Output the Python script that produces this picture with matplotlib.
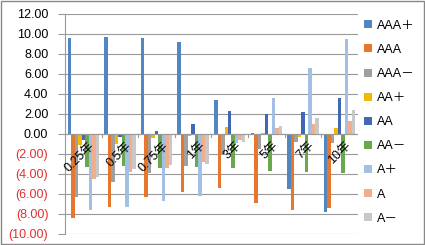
import matplotlib
matplotlib.use("Agg")
import matplotlib.pyplot as plt
from matplotlib.patches import Patch, Rectangle
import numpy as np

plt.rcParams['font.family'] = ['Liberation Sans', 'Noto Sans CJK SC', 'DejaVu Sans']

# Categories and series
categories = ['0.25年', '0.5年', '0.75年', '1年', '3年', '5年', '7年', '10年']
series_names = ['AAA＋', 'AAA', 'AAA－', 'AA＋', 'AA', 'AA－', 'A＋', 'A', 'A－']

aaa_plus = [9.6, 9.7, 9.6, 9.2, 3.4, 0.1, -5.5, -7.8]
aaa = [-8.4, -7.3, -6.3, -5.8, -5.4, -6.9, -7.6, -7.4]
aaa_minus = [-6.3, -4.8, -3.9, -3.2, -2.0, -1.5, -0.8, -0.9]
aa_plus = [-1.1, -1.0, -0.4, -0.2, 0.7, 0.1, -0.3, 0.6]
aa = [-0.6, -0.3, 0.3, 1.0, 2.3, 2.0, 2.2, 3.6]
aa_minus = [-3.3, -3.2, -3.4, -3.3, -3.4, -3.7, -3.8, -3.9]
a_plus = [-7.6, -7.3, -6.7, -6.2, -0.9, 3.6, 6.6, 9.5]
a = [-4.5, -3.8, -3.4, -2.8, -0.6, 0.6, 1.0, 1.3]
a_minus = [-4.3, -3.5, -3.1, -3.0, -0.8, 0.8, 1.6, 2.4]

all_series = [aaa_plus, aaa, aaa_minus, aa_plus, aa, aa_minus, a_plus, a, a_minus]
colors = ['#5087C0', '#E8772E', '#A0A0A0', '#F5B800', '#4068B4',
          '#6AA84F', '#A3BFE3', '#F0AE8A', '#C8C8C8']

yticks = np.arange(-10, 13, 2)

fig = plt.figure(figsize=(4.25, 2.45), dpi=100)
ax = fig.add_axes([0.153, 0.045, 0.689, 0.898])

n = len(all_series)
w = 1.0 / (n + 1.5)
x = np.arange(len(categories))
for j, (vals, col) in enumerate(zip(all_series, colors)):
    ax.bar(x + (j - (n - 1) / 2) * w, vals, width=w, color=col, zorder=3)

ax.set_xlim(-0.5, len(categories) - 0.5)
ax.set_ylim(-10, 12)
ax.set_yticks(yticks)
labels = []
for v in yticks:
    labels.append(f"({abs(v):.2f})" if v < 0 else f"{v:.2f}")
ax.set_yticklabels(labels, fontsize=9)
for t, v in zip(ax.get_yticklabels(), yticks):
    t.set_color('#E03030' if v < 0 else 'black')
ax.tick_params(axis='y', length=5, color='#999999', pad=7)
ax.set_xticks([])
ax.grid(axis='y', color='#999999', lw=0.8, zorder=0)
for s in ['top', 'right', 'bottom']:
    ax.spines[s].set_visible(False)
ax.spines['left'].set_color('#999999')

# category axis at zero with small ticks
ax.axhline(0, color='#999999', lw=0.8, zorder=4)
for b in np.arange(0.5, len(categories) - 0.5, 1):
    ax.plot([b, b], [0, -0.3], color='#999999', lw=0.8, zorder=4)

for i, c in enumerate(categories):
    ax.annotate(c, xy=(i, 0), xytext=(4, -4), textcoords='offset points',
                rotation=45, ha='right', va='top', rotation_mode='anchor',
                fontsize=9, zorder=5)

handles = [Patch(facecolor=col, edgecolor='none') for col in colors]
fig.legend(handles, series_names, loc='upper left', bbox_to_anchor=(0.845, 0.94),
           frameon=False, fontsize=9, handlelength=0.6, handleheight=0.6,
           handletextpad=0.4, labelspacing=0.97, borderaxespad=0)

fig.patches.append(Rectangle((0.002, 0.004), 0.995, 0.992, transform=fig.transFigure,
                             fill=False, edgecolor='#888888', lw=1))

fig.savefig('out.png', dpi=100)
